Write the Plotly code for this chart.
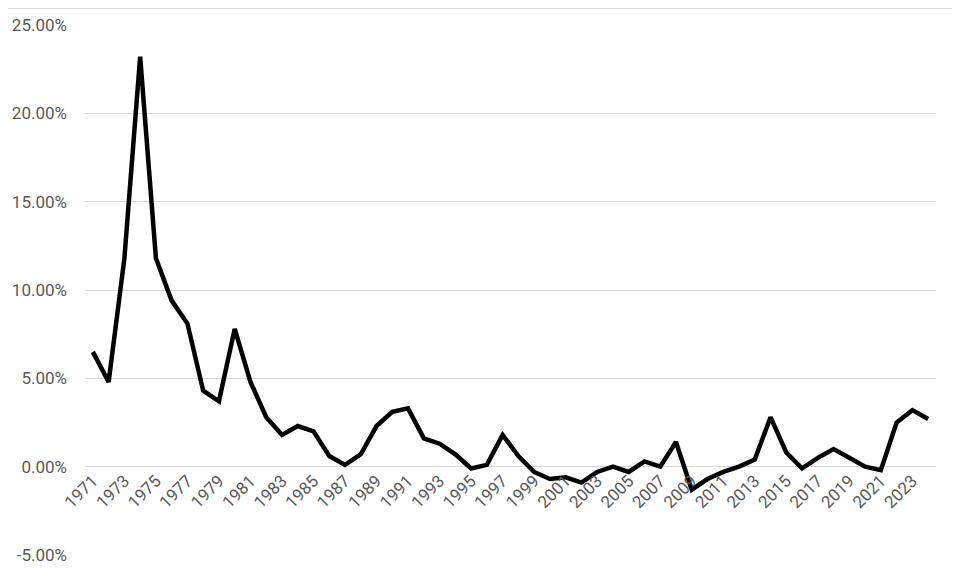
import plotly.graph_objects as go

years = [str(y) for y in range(1971, 2025)]
inflation = [6.5, 4.8, 11.8, 23.2, 11.8, 9.4, 8.1, 4.3, 3.7, 7.8,
             4.8, 2.8, 1.8, 2.3, 2.0, 0.6, 0.1, 0.7, 2.3, 3.1,
             3.3, 1.6, 1.3, 0.7, -0.1, 0.1, 1.8, 0.6, -0.3, -0.7,
             -0.6, -0.9, -0.3, 0.0, -0.3, 0.3, 0.0, 1.4, -1.3, -0.7,
             -0.3, 0.0, 0.4, 2.8, 0.8, -0.1, 0.5, 1.0, 0.5, 0.0,
             -0.2, 2.5, 3.2, 2.7]
tick_years = [str(y) for y in range(1971, 2025, 2)]
y_ticks = [-5, 0, 5, 10, 15, 20, 25]
y_min, y_max = -5, 25

fig = go.Figure()
fig.add_trace(go.Scatter(
    x=years, y=inflation, mode="lines",
    line=dict(color="black", width=4.5, shape="linear"),
    hoverinfo="x+y"
))

font = dict(family="Roboto, Arial, sans-serif", size=17, color="#595959")

fig.update_layout(
    width=960, height=575,
    margin=dict(l=77, r=32, t=17, b=28, autoexpand=False),
    paper_bgcolor="white", plot_bgcolor="white",
    showlegend=False,
    font=font,
    xaxis=dict(
        type="category", categoryorder="array", categoryarray=years,
        range=[-0.5, len(years) - 0.5], automargin=False,
        tickmode="array", tickvals=tick_years, ticktext=tick_years,
        tickangle=-45, showgrid=False, showline=False, zeroline=False,
        anchor="free", position=(0 - y_min) / (y_max - y_min),
        ticks="", tickfont=font,
    ),
    yaxis=dict(
        range=[y_min, y_max], tickmode="array", tickvals=y_ticks,
        ticktext=[f"{v:.2f}%" for v in y_ticks], automargin=False,
        showgrid=True, gridcolor="#d9d9d9", gridwidth=1.3,
        zeroline=False, showline=False, ticks="",
        ticklabelstandoff=17, tickfont=font,
    ),
    shapes=[dict(type="line", xref="paper", yref="paper", x0=-0.2, x1=1.1,
                 y0=1.031, y1=1.031, line=dict(color="#d9d9d9", width=1))],
)

fig.write_html("out.html")
